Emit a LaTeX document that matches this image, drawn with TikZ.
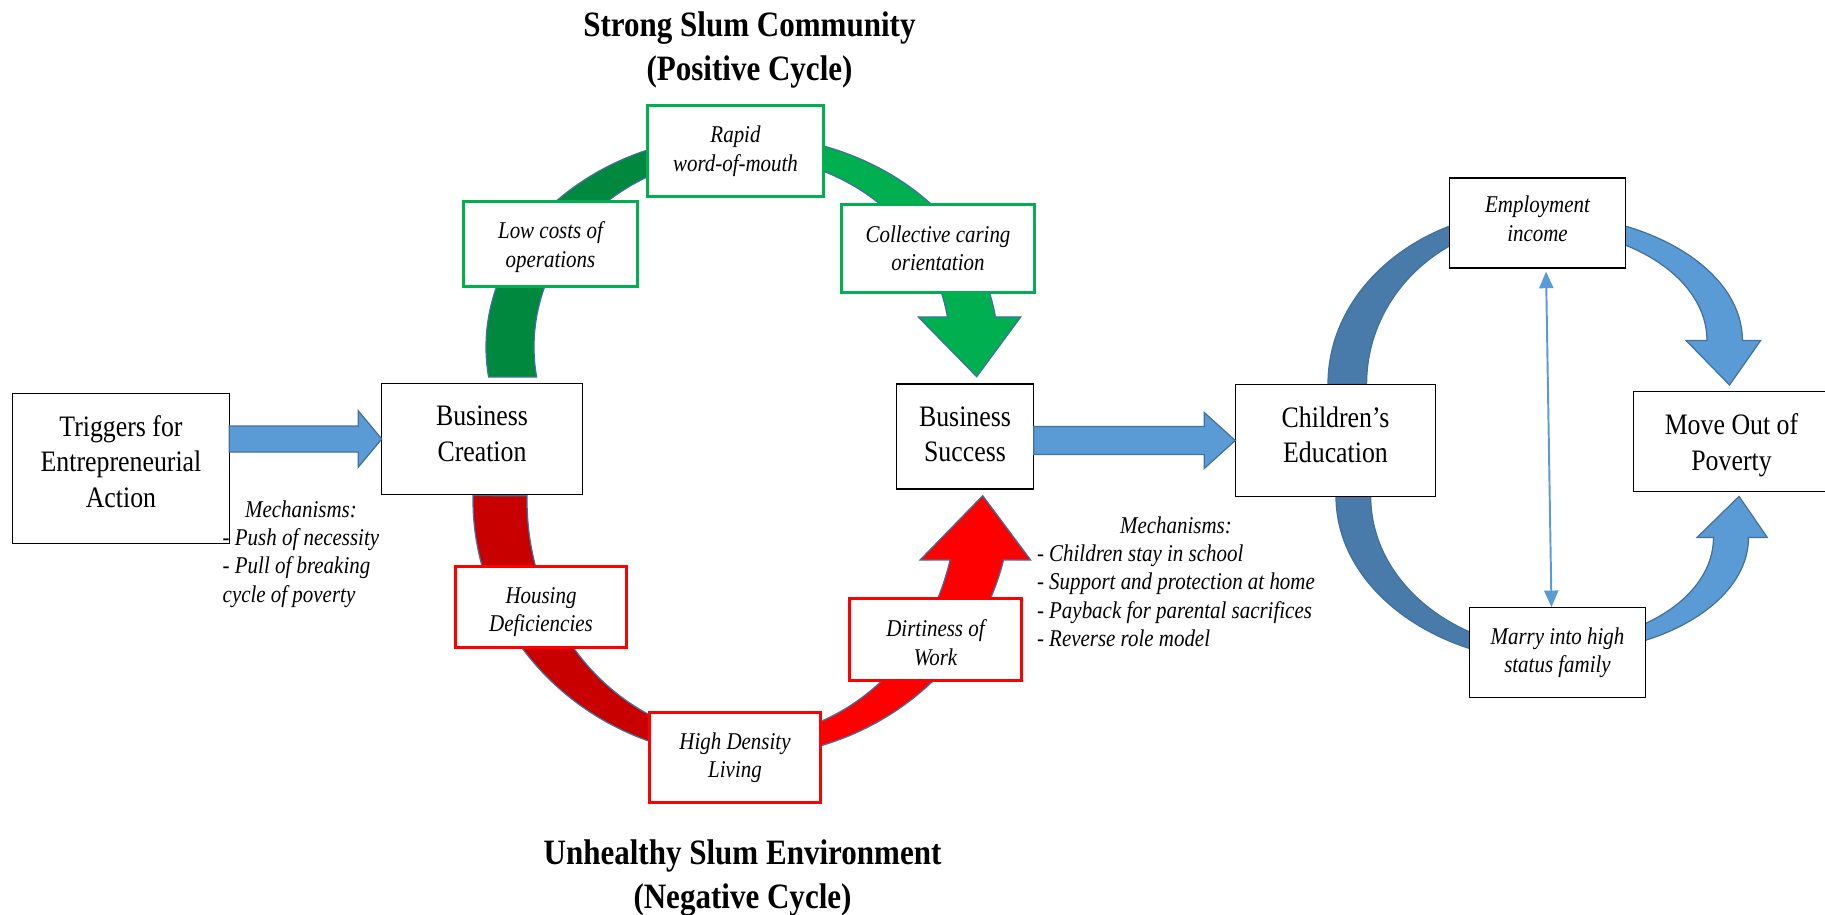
\documentclass[tikz,border=0pt]{standalone}
\usepackage{fontspec}
\setmainfont{Liberation Serif}[FakeStretch=0.87]
\usetikzlibrary{arrows.meta}
\definecolor{posgreen}{RGB}{0,176,80}
\definecolor{greendark}{RGB}{0,137,62}
\definecolor{negred}{RGB}{255,0,0}
\definecolor{reddark}{RGB}{200,0,0}
\definecolor{bluedark}{RGB}{72,122,170}
\definecolor{bluelight}{RGB}{91,155,213}
\definecolor{bandline}{RGB}{65,113,156}
\newcommand{\raisetext}[1]{\rule[-#1]{0pt}{#1}}
\newcommand{\droptext}[1]{\rule{0pt}{#1}}

\begin{document}
\begin{tikzpicture}[inner sep=0pt,outer sep=0pt,
mainbox/.style={draw=black,fill=white,line width=0.8pt,align=center,font=\fontsize{16.9}{20.2}\selectfont},
factbox/.style={draw=black,fill=white,line width=0.8pt,align=center,font=\fontsize{13.7}{16.2}\selectfont\itshape},
posbox/.style={factbox,draw=posgreen,line width=1.5pt},
negbox/.style={factbox,draw=negred,line width=1.5pt},
band/.style={draw=bandline,line width=0.7pt},
blockarrow/.style={band,fill=bluelight},
mechtext/.style={anchor=base west,font=\fontsize{13.7}{16.2}\selectfont\itshape},
cycletitle/.style={align=center,font=\fontsize{20.3}{25}\selectfont\bfseries}]
\useasboundingbox (0,0) rectangle (36.5,-18.3);

\begin{scope}[shift={(14.84,-6.94)}]
\filldraw[band,fill=greendark] (188.14:5.12 and 4.24) arc[start angle=188.14,end angle=90,x radius=5.12,y radius=4.24]
  -- (90:4.16 and 3.82) arc[start angle=90,end angle=189.04,x radius=4.16,y radius=3.82] -- cycle;
\filldraw[band,fill=posgreen] (90:5.12 and 4.24) arc[start angle=90,end angle=8.14,x radius=5.12,y radius=4.24]
  -- (5.574,0.6) -- (4.694,-0.594) -- (3.526,0.6)
  -- (9.04:4.16 and 3.82) arc[start angle=9.04,end angle=90,x radius=4.16,y radius=3.82] -- cycle;
\end{scope}
\begin{scope}[shift={(14.84,-10)}]
\filldraw[band,fill=reddark] (179:5.38 and 5.14) arc[start angle=179,end angle=270,x radius=5.38,y radius=5.14]
  -- (270:4.3 and 4.76) arc[start angle=270,end angle=179,x radius=4.3,y radius=4.76] -- cycle;
\filldraw[band,fill=negred] (270:5.38 and 5.14) arc[start angle=270,end angle=346.5,x radius=5.38,y radius=5.14]
  -- (5.774,-1.2) -- (4.814,0.086) -- (3.56,-1.2)
  -- (345.4:4.3 and 4.76) arc[start angle=345.4,end angle=270,x radius=4.3,y radius=4.76] -- cycle;
\end{scope}
\begin{scope}[shift={(30.74,-7.68)}]
\filldraw[band,fill=bluedark] (180:4.18 and 3.476) arc[start angle=180,end angle=90,x radius=4.18,y radius=3.476]
  -- (90:3.408 and 3.216) arc[start angle=90,end angle=180,x radius=3.408,y radius=3.216] -- cycle;
\end{scope}
\begin{scope}[shift={(30.74,-6.808)}]
\filldraw[band,fill=bluelight] (90:4.108 and 2.532) arc[start angle=90,end angle=0,x radius=4.108,y radius=2.532]
  -- (4.474,0) -- (3.85,-0.892) -- (2.98,0)
  -- (0:3.4 and 2.23) arc[start angle=0,end angle=90,x radius=3.4,y radius=2.23] -- cycle;
\end{scope}
\begin{scope}[shift={(31.14,-9.928)}]
\filldraw[band,fill=bluedark] (180:4.42 and 3.312) arc[start angle=180,end angle=270,x radius=4.42,y radius=3.312]
  -- (270:3.726 and 3.068) arc[start angle=270,end angle=180,x radius=3.726,y radius=3.068] -- cycle;
\end{scope}
\begin{scope}[shift={(31.14,-10.75)}]
\filldraw[band,fill=bluelight] (270:3.83 and 2.318) arc[start angle=270,end angle=360,x radius=3.83,y radius=2.318]
  -- (4.206,0) -- (3.64,0.822) -- (2.8,0)
  -- (0:3.13 and 2.082) arc[start angle=360,end angle=270,x radius=3.13,y radius=2.082] -- cycle;
\end{scope}

\draw (2.42,-9.37) node[mainbox,minimum width=4.33cm,minimum height=3cm] (trig) {Triggers for\\Entrepreneurial\\Action\raisetext{8pt}};
\draw (9.64,-8.78) node[mainbox,minimum width=4.01cm,minimum height=2.23cm] (create) {Business\\Creation\raisetext{6pt}};
\draw (19.3,-8.73) node[mainbox,minimum width=2.75cm,minimum height=2.1cm] (success) {Business\\Success\raisetext{2.6pt}};
\draw (26.71,-8.81) node[mainbox,minimum width=4.01cm,minimum height=2.23cm] (educ) {Children’s\\Education\raisetext{6.6pt}};
\draw (34.63,-8.83) node[mainbox,minimum width=3.93cm,minimum height=2cm] (poverty) {\droptext{16pt}Move Out of\\Poverty};

\draw (14.71,-3.02) node[posbox,minimum width=3.52cm,minimum height=1.83cm] (rapid) {Rapid\\word-of-mouth};
\draw (11.01,-4.88) node[posbox,minimum width=3.49cm,minimum height=1.7cm] (lowcost) {\droptext{13.4pt}Low costs of\\operations};
\draw (18.76,-4.97) node[posbox,minimum width=3.85cm,minimum height=1.75cm] (caring) {Collective caring\\orientation};
\draw (10.82,-12.14) node[negbox,minimum width=3.43cm,minimum height=1.63cm] (housing) {\droptext{14.6pt}Housing\\Deficiencies};
\draw (14.7,-15.15) node[negbox,minimum width=3.43cm,minimum height=1.81cm] (density) {High Density\\Living};
\draw (18.71,-12.79) node[negbox,minimum width=3.45cm,minimum height=1.65cm] (dirt) {\droptext{13.4pt}Dirtiness of\\Work};
\draw (30.75,-4.46) node[factbox,minimum width=3.51cm,minimum height=1.8cm] (employ) {Employment\\income\raisetext{5.2pt}};
\draw (31.15,-13.05) node[factbox,minimum width=3.51cm,minimum height=1.81cm] (marry) {Marry into high\\status family};

\filldraw[blockarrow] (trig.east |- create.west) ++(0,0.26) -- ++(2.58,0) -- ++(0,0.304) -- (create.west)
  -- ++(-0.47,-0.564) -- ++(0,0.304) -- ++(-2.58,0) -- cycle;
\filldraw[blockarrow] (success.east |- educ.west) ++(0,0.28) -- ++(3.41,0) -- ++(0,0.28) -- (educ.west)
  -- ++(-0.62,-0.56) -- ++(0,0.28) -- ++(-3.41,0) -- cycle;
\draw[bluelight,line width=1.1pt,{Triangle[width=8pt,length=9.5pt]}-{Triangle[width=8pt,length=9.5pt]},shorten <=0.07cm]
  ([xshift=0.17cm]employ.south) -- ([xshift=-0.12cm]marry.north);

\draw (4.454,-10.34) node[mechtext] (mechleft) {\begin{tabular}[t]{@{}l@{}}\multicolumn{1}{@{}c@{}}{Mechanisms:}\\- Push of necessity\\- Pull of breaking\\cycle of poverty\end{tabular}};
\draw (20.74,-10.66) node[mechtext] (mechright) {\begin{tabular}[t]{@{}l@{}}\multicolumn{1}{@{}c@{}}{Mechanisms:}\\- Children stay in school\\- Support and protection at home\\- Payback for parental sacrifices\\- Reverse role model\end{tabular}};

\draw (14.99,-1.0) node[cycletitle] (postitle) {Strong Slum Community\\(Positive Cycle)};
\draw (14.85,-17.57) node[cycletitle] (negtitle) {Unhealthy Slum Environment\\(Negative Cycle)};
\end{tikzpicture}
\end{document}
